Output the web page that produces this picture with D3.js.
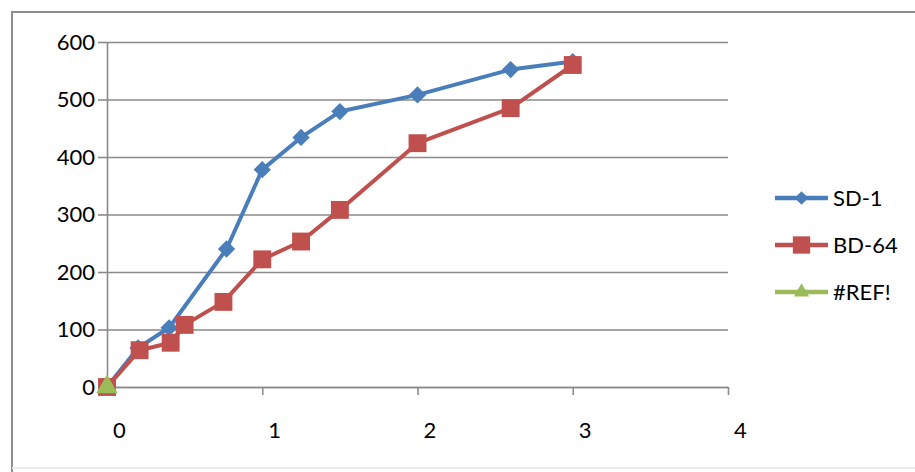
<!DOCTYPE html>
<html>
<head>
<meta charset="utf-8">
<script src="https://cdn.jsdelivr.net/npm/d3@7"></script>
<style>
  html, body { margin: 0; padding: 0; background: #fff; }
  svg { display: block; }
  text { font-family: Lato, "Open Sans", sans-serif; fill: #000; }
</style>
</head>
<body>
<svg id="chart" width="915" height="472"></svg>
<script>
// ---- data ----
const seriesNames = ["SD-1", "BD-64", "#REF!"];
const sd1X = [0, 0.2, 0.4, 0.77, 1.0, 1.25, 1.5, 2.0, 2.6, 3.0];
const sd1Y = [0, 68, 103, 240, 378, 434, 479, 508, 552, 566];
const bd64X = [0, 0.21, 0.41, 0.5, 0.75, 1.0, 1.25, 1.5, 2.0, 2.6, 3.0];
const bd64Y = [0, 64, 77, 108, 148, 222, 253, 308, 424, 485, 560];
const refX = [0];
const refY = [0];
const xTickValues = [0, 1, 2, 3, 4];
const yTickValues = [0, 100, 200, 300, 400, 500, 600];

// ---- layout / style ----
const W = 915, H = 472;
const plot = { left: 107, right: 728, top: 42, bottom: 387 };
const colors = ["#4A7EBB", "#C0504D", "#9BBB59"];
const gridColor = "#8a8a8a";
const fontSize = 22;
const fmt = d3.format("d");

const svg = d3.select("#chart");

const x = d3.scaleLinear().domain([0, 4]).range([plot.left, plot.right]);
const y = d3.scaleLinear().domain([0, 600]).range([plot.bottom, plot.top]);

// outer chart border (top + left visible, faint bottom)
svg.append("path")
  .attr("d", `M12,${H} L12,12 L${W},12`)
  .attr("fill", "none").attr("stroke", "#8c8c8c").attr("stroke-width", 2);
svg.append("line")
  .attr("x1", 12).attr("x2", W).attr("y1", 468).attr("y2", 468)
  .attr("stroke", "#ececec").attr("stroke-width", 2);

// gridlines
const grid = svg.append("g")
  .attr("transform", `translate(${plot.left},0)`)
  .call(d3.axisLeft(y).tickValues(yTickValues)
        .tickSize(-(plot.right - plot.left)).tickFormat(""));
grid.select(".domain").remove();
grid.selectAll(".tick line").attr("stroke", gridColor).attr("stroke-width", 1.6);

// y axis
const yAxis = svg.append("g")
  .attr("transform", `translate(${plot.left},0)`)
  .call(d3.axisLeft(y).tickValues(yTickValues).tickFormat(fmt)
        .tickSize(9).tickSizeOuter(0).tickPadding(3));
yAxis.select(".domain").attr("stroke", gridColor).attr("stroke-width", 1.6);
yAxis.selectAll(".tick line").attr("stroke", gridColor).attr("stroke-width", 1.6);
yAxis.selectAll("text").style("font-size", fontSize + "px")
  .style("font-family", "Lato, 'Open Sans', sans-serif").attr("fill", "#000");

// x axis
const xAxis = svg.append("g")
  .attr("transform", `translate(0,${plot.bottom})`)
  .call(d3.axisBottom(x).tickValues(xTickValues).tickFormat(fmt)
        .tickSize(8).tickSizeOuter(0));
xAxis.select(".domain").attr("stroke", gridColor).attr("stroke-width", 1.6);
xAxis.selectAll(".tick line").attr("stroke", gridColor).attr("stroke-width", 1.6);
xAxis.selectAll("text")
  .attr("y", 43).attr("dy", "0.35em").attr("dx", 12)
  .style("font-size", fontSize + "px")
  .style("font-family", "Lato, 'Open Sans', sans-serif").attr("fill", "#000");

// series
const diamond = d3.symbolDiamond2 || d3.symbolDiamond;
const series = [
  { name: seriesNames[0], xs: sd1X, ys: sd1Y, color: colors[0], symbol: diamond, size: 190, lsize: 120 },
  { name: seriesNames[1], xs: bd64X, ys: bd64Y, color: colors[1], symbol: d3.symbolSquare, size: 320, lsize: 300 },
  { name: seriesNames[2], xs: refX, ys: refY, color: colors[2], symbol: d3.symbolTriangle, size: 200, lsize: 100 }
];

const line = d3.line().x(d => x(d[0])).y(d => y(d[1]));

series.forEach(s => {
  const pts = s.xs.map((v, i) => [v, s.ys[i]]);
  const g = svg.append("g");
  if (pts.length > 1) {
    g.append("path").datum(pts)
      .attr("d", line)
      .attr("fill", "none").attr("stroke", s.color)
      .attr("stroke-width", 4).attr("stroke-linejoin", "round");
  }
  g.selectAll("path.mk").data(pts).join("path")
    .attr("class", "mk")
    .attr("transform", d => `translate(${x(d[0])},${y(d[1])})`)
    .attr("d", d3.symbol().type(s.symbol).size(s.size))
    .attr("fill", s.color);
});

// legend
const legend = svg.append("g");
const legY = d3.scaleLinear().domain([0, 2]).range([198, 292]);
series.forEach((s, i) => {
  const ly = legY(i);
  legend.append("line")
    .attr("x1", 775).attr("x2", 828).attr("y1", ly).attr("y2", ly)
    .attr("stroke", s.color).attr("stroke-width", 4.5);
  legend.append("path")
    .attr("transform", `translate(801.5,${ly})`)
    .attr("d", d3.symbol().type(s.symbol).size(s.lsize))
    .attr("fill", s.color);
  legend.append("text")
    .attr("x", 833).attr("y", ly).attr("dy", "0.35em")
    .style("font-size", fontSize + "px")
    .text(s.name);
});
</script>
</body>
</html>
